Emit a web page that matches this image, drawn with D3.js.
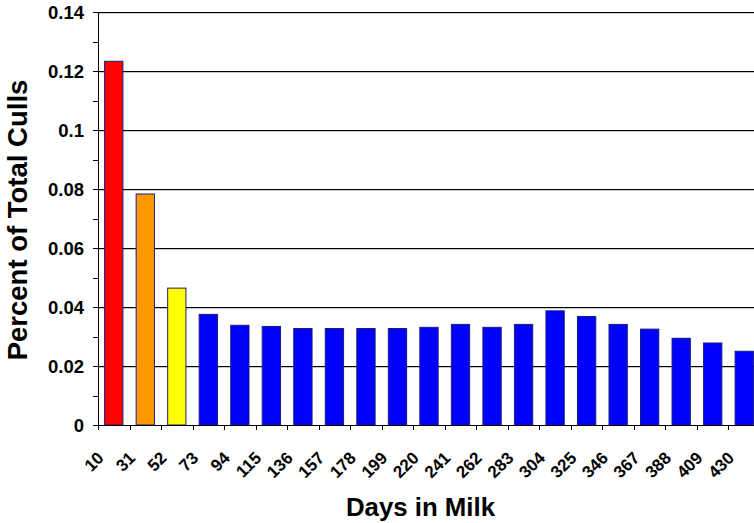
<!DOCTYPE html>
<html>
<head>
<meta charset="utf-8">
<script src="https://cdn.jsdelivr.net/npm/d3@7"></script>
<style>
  html, body { margin: 0; padding: 0; background: #fff; }
  svg { display: block; font-family: "Liberation Sans", Arial, sans-serif; }
</style>
</head>
<body>
<div id="chart"></div>
<script>
// Culls by days in milk — single bar chart, Excel style
var days = ["10", "31", "52", "73", "94", "115", "136", "157", "178", "199", "220",
            "241", "262", "283", "304", "325", "346", "367", "388", "409", "430"];
var culls = [0.1233, 0.0783, 0.0464, 0.0375, 0.0338, 0.0334, 0.0327, 0.0327, 0.0327, 0.0327, 0.0331,
             0.0341, 0.0331, 0.0341, 0.0387, 0.0368, 0.0341, 0.0325, 0.0294, 0.0278, 0.0250];
var barColors = ["#ff0000", "#ff9900", "#ffff00"]; // rest are blue
var yTicks = [0, 0.02, 0.04, 0.06, 0.08, 0.1, 0.12, 0.14];

var totalW = 754, totalH = 523;
var margin = { top: 12, right: -6, bottom: 98, left: 98 };
var width = totalW - margin.left - margin.right;
var height = totalH - margin.top - margin.bottom;

var svg = d3.select("#chart").append("svg")
    .attr("width", totalW)
    .attr("height", totalH);

var g = svg.append("g")
    .attr("transform", "translate(" + margin.left + "," + margin.top + ")");

var x = d3.scaleBand()
    .domain(days)
    .range([0, width])
    .paddingInner(0.42)
    .paddingOuter(0.21);

var y = d3.scaleLinear()
    .domain([0, 0.14])
    .range([height, 0]);

// --- Grid lines (black with a faint grey shadow, like Excel) ---
var grid = g.append("g");
grid.selectAll("line.shadow")
    .data(yTicks.slice(1))
    .enter().append("line")
    .attr("class", "shadow")
    .attr("x1", 0)
    .attr("x2", width)
    .attr("y1", function(d) { return Math.round(y(d)) + 1.5; })
    .attr("y2", function(d) { return Math.round(y(d)) + 1.5; })
    .style("stroke", "#c8c8c8");
grid.selectAll("line.main")
    .data(yTicks.slice(1))
    .enter().append("line")
    .attr("class", "main")
    .attr("x1", 0)
    .attr("x2", width)
    .attr("y1", function(d) { return Math.round(y(d)) + 0.5; })
    .attr("y2", function(d) { return Math.round(y(d)) + 0.5; })
    .style("stroke", "#000");

// --- Bars ---
g.append("g")
    .selectAll("rect")
    .data(culls)
    .enter().append("rect")
    .attr("x", function(d, i) { return x(days[i]); })
    .attr("y", function(d) { return y(d); })
    .attr("width", x.bandwidth())
    .attr("height", function(d) { return height - y(d); })
    .style("fill", function(d, i) { return barColors[i] || "#0000ff"; })
    .style("stroke", "#1a1a80")
    .style("stroke-width", 1);

// --- Y axis with minor ticks ---
var minor = d3.range(0, 0.1401, 0.01);
g.append("g")
    .selectAll("line")
    .data(minor)
    .enter().append("line")
    .attr("x1", -5)
    .attr("x2", 0)
    .attr("y1", function(d) { return Math.round(y(d)) + 0.5; })
    .attr("y2", function(d) { return Math.round(y(d)) + 0.5; })
    .style("stroke", "#000");

var yAxis = g.append("g")
    .call(d3.axisLeft(y).tickValues(yTicks).tickSize(5).tickPadding(9)
        .tickFormat(function(d) { return d === 0 ? "0" : String(+d.toFixed(2)); }));
yAxis.select(".domain").attr("d", "M0.5,0V" + height);
yAxis.selectAll(".tick line").remove();
yAxis.selectAll("text")
    .style("font-family", "'Liberation Sans', Arial, sans-serif")
    .style("font-size", "18.5px")
    .style("font-weight", "bold")
    .attr("dy", "0.36em");

// --- X axis ---
var xTicks = days.map(function(d) { return x(d) - x.step() * x.paddingInner() / 2; });
g.append("line")
    .attr("x1", 0).attr("x2", width)
    .attr("y1", height + 0.5).attr("y2", height + 0.5)
    .style("stroke", "#000");
g.append("g")
    .selectAll("line")
    .data(xTicks)
    .enter().append("line")
    .attr("x1", function(d) { return Math.round(d) + 0.5; })
    .attr("x2", function(d) { return Math.round(d) + 0.5; })
    .attr("y1", height)
    .attr("y2", height + 5)
    .style("stroke", "#000");

g.append("g")
    .selectAll("text")
    .data(days)
    .enter().append("text")
    .attr("transform", function(d) {
        return "translate(" + (x(d) + x.bandwidth() / 2 - 9) + "," + (height + 34) + ") rotate(-45)";
    })
    .attr("text-anchor", "end")
    .style("font-size", "17px")
    .style("font-weight", "bold")
    .text(function(d) { return d; });

// --- Axis titles ---
svg.append("text")
    .attr("transform", "rotate(-90)")
    .attr("x", -220)
    .attr("y", 26.5)
    .attr("text-anchor", "middle")
    .style("font-size", "27.5px")
    .style("font-weight", "bold")
    .text("Percent of Total Culls");

svg.append("text")
    .attr("x", 420.5)
    .attr("y", 516)
    .attr("text-anchor", "middle")
    .style("font-size", "25.8px")
    .style("font-weight", "bold")
    .text("Days in Milk");
</script>
</body>
</html>
